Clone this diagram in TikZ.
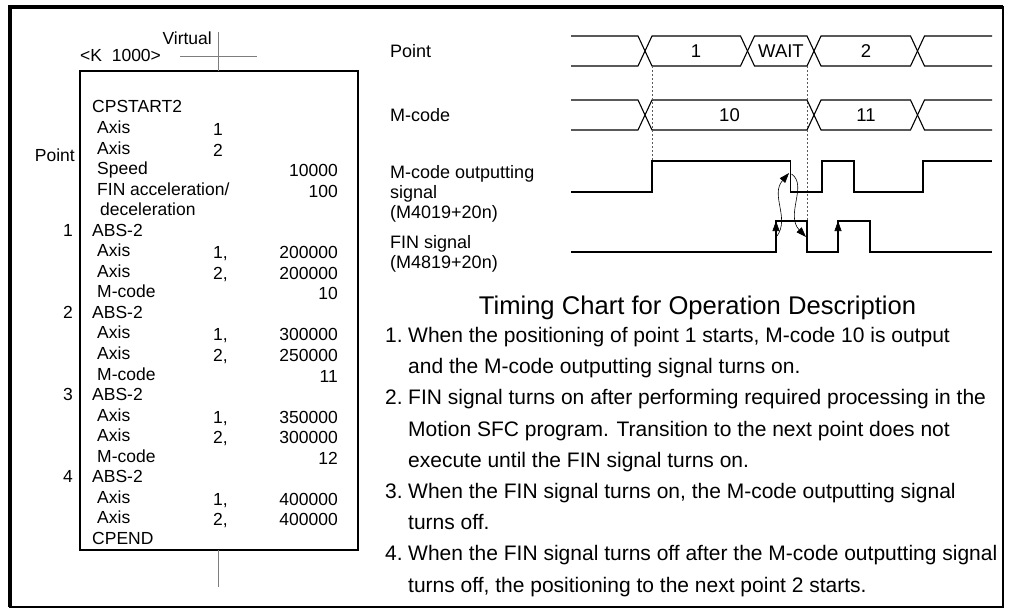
\documentclass[tikz,border=0pt]{standalone}
\usepackage{fontspec}
\setmainfont{Liberation Sans}
\usetikzlibrary{arrows.meta,positioning}
\definecolor{chartgray}{RGB}{125,125,125}
\definecolor{chartdash}{RGB}{90,90,90}

\begin{document}
\begin{tikzpicture}[x=1pt,y=-1pt,
  prog/.style={anchor=base west,inner sep=0pt,font=\fontsize{17.5}{20}\selectfont},
  progr/.style={prog,anchor=base east},
  lbl/.style={anchor=base west,inner sep=0pt,align=left,font=\fontsize{18}{20}\selectfont},
  val/.style={inner sep=0pt,font=\fontsize{18.5}{20}\selectfont},
  body/.style={anchor=base west,inner sep=0pt,font=\fontsize{21}{26}\selectfont},
  bus/.style={line width=1.1pt},
  sig/.style={line width=1.5pt},
  guide/.style={chartgray,line width=0.8pt},
  dashline/.style={chartdash,line width=0.6pt,dash pattern=on 2pt off 2pt},
  tick/.style={line width=0.6pt,-{Triangle[length=10pt,width=7pt]}}]
  \useasboundingbox (0,0) rectangle (1009,610);
  \draw[line width=1.6pt] (10,7) rectangle (1003,607);
  \draw[line width=3.5pt] (10,607) -- (10,7) -- (1003,7);

  \draw[line width=1.2pt] (80,71) rectangle (358,550);
  \draw[guide] (218,32) -- (218,71);
  \draw[guide] (180,56) -- (257,56);
  \draw[guide] (218,550) -- (218,587);
  \node[progr] (virtual) at (212,45) {Virtual};
  \node[prog] (kconst) at (80,62) {<K\ \ 1000>};
  \node[progr] (pointlbl) at (75,161.5) {Point};

  \foreach \r/\dx/\txt in {0/92/CPSTART2, 1/97/Axis, 2/97/Axis, 3/97/Speed,
      5/100/deceleration, 6/92/ABS-2, 7/97/Axis, 8/97/Axis, 9/97/M-code,
      10/92/ABS-2, 11/97/Axis, 12/97/Axis, 13/97/M-code, 14/92/ABS-2,
      15/97/Axis, 16/97/Axis, 17/97/M-code, 18/92/ABS-2, 19/97/Axis,
      20/97/Axis, 21/92/CPEND}
    \node[prog] (row\r) at (\dx,{112.9+20.55*\r}) {\txt};
  \node[prog] (row4) at (97,{112.9+20.55*4}) {FIN acceleration/};
  \foreach \r/\txt in {1/1, 2/2, 7/{1,}, 8/{2,}, 11/{1,}, 12/{2,},
      15/{1,}, 16/{2,}, 19/{1,}, 20/{2,}}
    \node[prog] (axis\r) at (213,{114.9+20.55*\r}) {\txt};
  \foreach \r/\txt in {3/10000, 4/100, 7/200000, 8/200000, 9/10, 11/300000,
      12/250000, 13/11, 15/350000, 16/300000, 17/12, 19/400000, 20/400000}
    \node[progr] (num\r) at (338,{114.9+20.55*\r}) {\txt};
  \foreach \r/\p in {6/1, 10/2, 14/3, 18/4}
    \node[progr] (pt\p) at (73,{112.9+20.55*\r}) {\p};

  \node[lbl] (pointsig) at (390,57.5) {Point};
  \node[lbl] (mcodesig) at (390,121.5) {M-code};
  \node[lbl] (moutsig) at (390,218) {M-code outputting\\signal\\(M4019+20n)};
  \node[lbl] (finsig) at (390,268) {FIN signal\\(M4819+20n)};

  \draw[bus] (571,36) -- (638,36) -- (645,51) -- (638,66) -- (571,66);
  \foreach \a/\b in {645/747.5, 747.5/814, 814/917.5}
    \draw[bus] (\a,51) -- ({\a+7},36) -- ({\b-7},36) -- (\b,51)
      -- ({\b-7},66) -- ({\a+7},66) -- cycle;
  \draw[bus] (992,36) -- (924.5,36) -- (917.5,51) -- (924.5,66) -- (992,66);
  \node[val] (pone) at (696,51) {1};
  \node[val] (pwait) at (781,51) {WAIT};
  \node[val] (ptwo) at (866,51) {2};

  \draw[bus] (571,100) -- (638,100) -- (645,115) -- (638,130) -- (571,130);
  \foreach \a/\b in {645/814, 814/917.5}
    \draw[bus] (\a,115) -- ({\a+7},100) -- ({\b-7},100) -- (\b,115)
      -- ({\b-7},130) -- ({\a+7},130) -- cycle;
  \draw[bus] (992,100) -- (924.5,100) -- (917.5,115) -- (924.5,130) -- (992,130);
  \node[val] (mten) at (729.5,115) {10};
  \node[val] (meleven) at (866,115) {11};

  \draw[dashline] (652,66) -- (652,161);
  \draw[dashline] (807,66) -- (807,221);

  \draw[sig] (571,192) -- (652,192) -- (652,161) -- (790.5,161) -- (790.5,192)
    -- (822,192) -- (822,161) -- (854,161) -- (854,192) -- (923,192)
    -- (923,161) -- (992,161);
  \draw[sig] (571,252) -- (776,252) -- (776,221) -- (807,221) -- (807,252)
    -- (838,252) -- (838,221) -- (870,221) -- (870,252) -- (992,252);

  \coordinate (finon) at (776,221);
  \coordinate (finonb) at (838,221);
  \coordinate (moutoff) at (789,173);
  \coordinate (finoff) at (806,237);
  \draw[tick] (776,236) -- (finon);
  \draw[tick] (838,236) -- (finonb);
  \draw[tick] (777,236) .. controls (790,218) and (770,195) .. (moutoff);
  \draw[tick] (791.5,174) .. controls (808,185) and (785,215) .. (finoff);

  \node[anchor=base,inner sep=0pt,font=\fontsize{25.6}{30}\selectfont] (title)
    at (697.5,314) {Timing Chart for Operation Description};
  \node[body] (n1) at (385,342.5) {1.};
  \node[body] (l1) at (408,342.5) {When the positioning of point 1 starts, M-code 10 is output};
  \node[body] (l2) at (408,373.7) {and the M-code outputting signal turns on.};
  \node[body] (n2) at (385,404.9) {2.};
  \node[body] (l3) at (408,404.9) {FIN signal turns on after performing required processing in the};
  \node[body] (l4) at (408,436.1) {Motion SFC program. Transition to the next point does not};
  \node[body] (l5) at (408,467.3) {execute until the FIN signal turns on.};
  \node[body] (n3) at (385,498.5) {3.};
  \node[body] (l6) at (408,498.5) {When the FIN signal turns on, the M-code outputting signal};
  \node[body] (l7) at (408,529.7) {turns off.};
  \node[body] (n4) at (385,560.9) {4.};
  \node[body] (l8) at (408,560.9) {When the FIN signal turns off after the M-code outputting signal};
  \node[body] (l9) at (408,592.1) {turns off, the positioning to the next point 2 starts.};
\end{tikzpicture}
\end{document}
